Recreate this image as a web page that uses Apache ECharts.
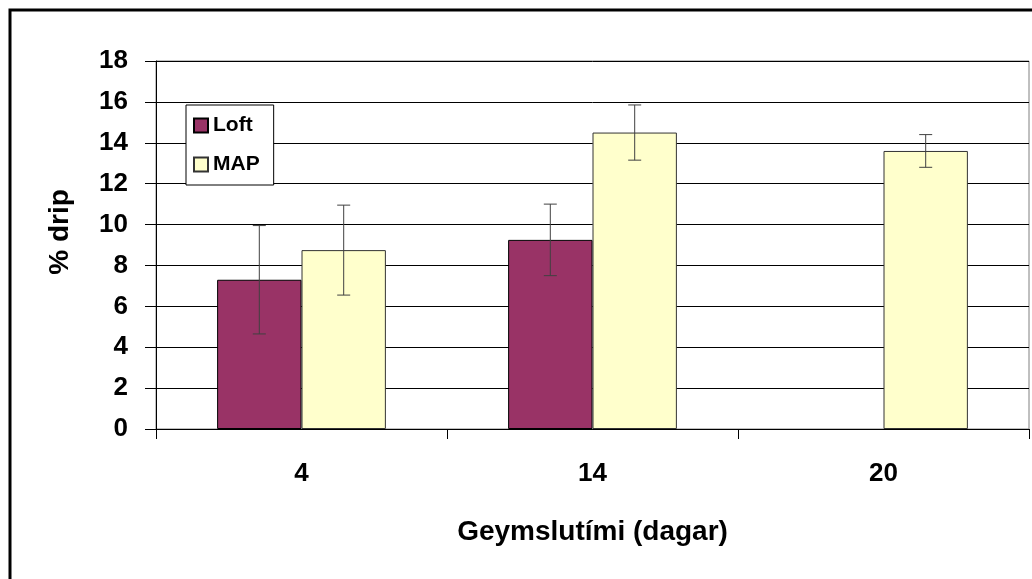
<!DOCTYPE html>
<html>
<head>
<meta charset="utf-8">
<script src="https://cdn.jsdelivr.net/npm/echarts@6/dist/echarts.min.js"></script>
<style>
  html, body { margin: 0; padding: 0; background: #fff; }
  #chart { width: 1032px; height: 579px; }
</style>
</head>
<body>
<div id="chart"></div>
<script>
// storage days
var categories = ['4', '14', '20'];
// % drip means
var loftValues = [7.3, 9.25, null];
var mapValues = [8.75, 14.5, 13.6];
// +/- error
var loftErr = [2.65, 1.75, null];
var mapErr = [2.2, 1.35, 0.8];

var FONT = 'Liberation Sans, Arial, sans-serif';
var GAP = 0.42; // barCategoryGap

function errData(vals, errs) {
  var out = [];
  for (var i = 0; i < vals.length; i++) {
    if (vals[i] == null || errs[i] == null) continue;
    out.push([i, vals[i] - errs[i], vals[i] + errs[i]]);
  }
  return out;
}

// side: -1 = first bar in group, +1 = second bar
function errRender(side) {
  return function (params, api) {
    var lo = api.coord([api.value(0), api.value(1)]);
    var hi = api.coord([api.value(0), api.value(2)]);
    var band = api.size([1, 0])[0];
    var bw = band * (1 - GAP) / 2;
    var x = lo[0] + side * bw / 2;
    var cap = 6.5;
    var st = { stroke: '#404040', lineWidth: 1 };
    return {
      type: 'group',
      children: [
        { type: 'line', shape: { x1: x, y1: hi[1], x2: x, y2: lo[1] }, style: st },
        { type: 'line', shape: { x1: x - cap, y1: hi[1], x2: x + cap, y2: hi[1] }, style: st },
        { type: 'line', shape: { x1: x - cap, y1: lo[1], x2: x + cap, y2: lo[1] }, style: st }
      ]
    };
  };
}

var myChart = echarts.init(document.getElementById('chart'));

var option = {
  animation: false,
  backgroundColor: '#fff',
  textStyle: { fontFamily: FONT },
  grid: {
    left: 156,
    right: 3,
    top: 61,
    bottom: 150,
    show: true,
    borderColor: '#808080',
    borderWidth: 1
  },
  legend: {
    data: ['Loft', 'MAP'],
    orient: 'vertical',
    left: 186,
    top: 105,
    padding: [10, 14, 10, 7],
    itemGap: 18,
    itemWidth: 14,
    itemHeight: 14,
    backgroundColor: '#fff',
    borderColor: '#000',
    borderWidth: 1,
    borderRadius: 0,
    icon: 'rect',
    textStyle: { fontFamily: FONT, fontSize: 21, fontWeight: 'bold', color: '#000' }
  },
  xAxis: {
    type: 'category',
    data: categories,
    name: 'Geymslutími (dagar)',
    nameLocation: 'middle',
    nameGap: 89,
    nameTextStyle: { fontFamily: FONT, fontSize: 28, fontWeight: 'bold', color: '#000' },
    axisLine: { lineStyle: { color: '#000', width: 1 } },
    axisTick: { show: true, length: 10, lineStyle: { color: '#000' } },
    axisLabel: { margin: 32, fontFamily: FONT, fontSize: 26, fontWeight: 'bold', color: '#000' },
    splitLine: { show: false }
  },
  yAxis: {
    type: 'value',
    min: 0,
    max: 18,
    interval: 2,
    axisLine: { show: true, lineStyle: { color: '#000', width: 1 } },
    axisTick: { show: true, length: 11, lineStyle: { color: '#000' } },
    axisLabel: { margin: 28, fontFamily: FONT, fontSize: 26, fontWeight: 'bold', color: '#000' },
    splitLine: { show: true, lineStyle: { color: '#000', width: 1 } }
  },
  series: [
    {
      name: 'Loft',
      type: 'bar',
      data: loftValues,
      barGap: '0%',
      barCategoryGap: '42%',
      itemStyle: { color: '#993366', borderColor: '#000', borderWidth: 1 }
    },
    {
      name: 'MAP',
      type: 'bar',
      data: mapValues,
      barGap: '0%',
      barCategoryGap: '42%',
      itemStyle: { color: '#ffffcc', borderColor: '#333', borderWidth: 1 }
    },
    {
      name: 'Loft err',
      type: 'custom',
      renderItem: errRender(-1),
      encode: { x: 0, y: [1, 2] },
      data: errData(loftValues, loftErr),
      z: 5
    },
    {
      name: 'MAP err',
      type: 'custom',
      renderItem: errRender(1),
      encode: { x: 0, y: [1, 2] },
      data: errData(mapValues, mapErr),
      z: 5
    }
  ],
  graphic: [
    {
      type: 'rect',
      shape: { x: 10, y: 10, width: 1100, height: 1000 },
      style: { fill: null, stroke: '#000', lineWidth: 3 },
      silent: true
    },
    {
      type: 'text',
      x: 60,
      y: 232,
      rotation: Math.PI / 2,
      style: {
        text: '% drip',
        font: 'bold 28px ' + FONT,
        fill: '#000',
        textAlign: 'center',
        textVerticalAlign: 'middle'
      }
    }
  ]
};

myChart.setOption(option);
window.addEventListener('resize', function () { myChart.resize(); });
</script>
</body>
</html>
